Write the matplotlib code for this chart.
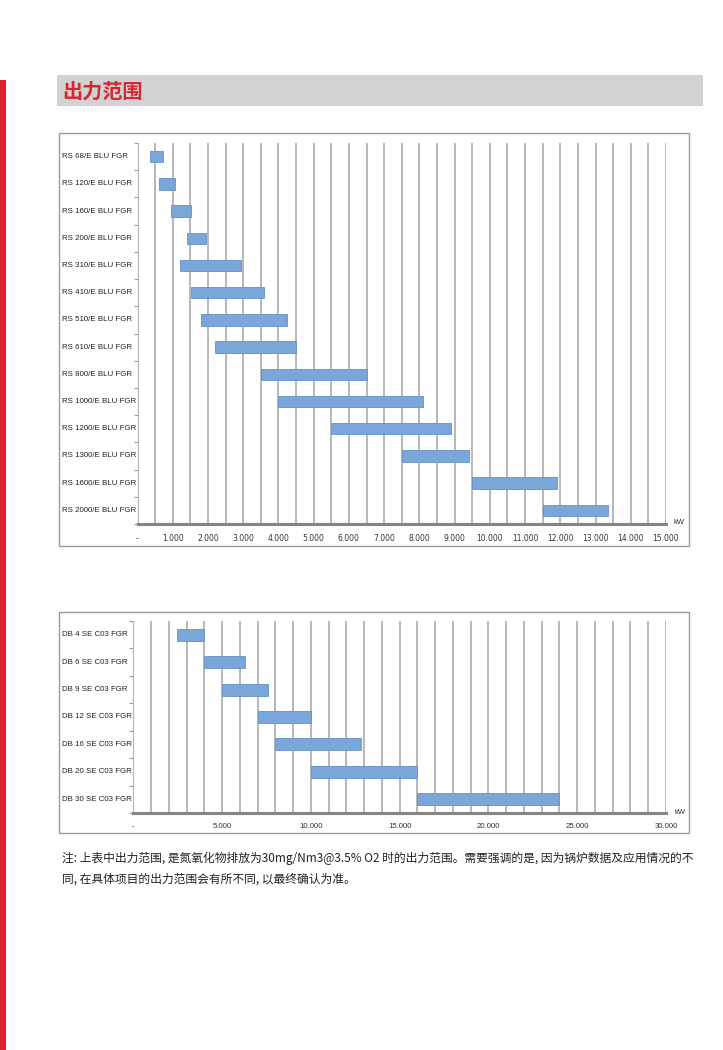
import matplotlib
matplotlib.use("Agg")
import matplotlib.pyplot as plt
import matplotlib.patches as patches
import matplotlib.transforms as mtransforms
from matplotlib.ticker import FuncFormatter, MultipleLocator

# RS burners, output range in kW
rs_models = ['RS 68/E BLU FGR', 'RS 120/E BLU FGR', 'RS 160/E BLU FGR',
             'RS 200/E BLU FGR', 'RS 310/E BLU FGR', 'RS 410/E BLU FGR',
             'RS 510/E BLU FGR', 'RS 610/E BLU FGR', 'RS 800/E BLU FGR',
             'RS 1000/E BLU FGR', 'RS 1200/E BLU FGR', 'RS 1300/E BLU FGR',
             'RS 1600/E BLU FGR', 'RS 2000/E BLU FGR']
rs_min = [350, 620, 950, 1400, 1200, 1520, 1800, 2200, 3500, 4000, 5500, 7500, 9500, 11500]
rs_max = [710, 1060, 1520, 1950, 2930, 3580, 4240, 4500, 6500, 8100, 8900, 9400, 11900, 13350]

# DB burners, output range in kW
db_models = ['DB 4 SE C03 FGR', 'DB 6 SE C03 FGR', 'DB 9 SE C03 FGR',
             'DB 12 SE C03 FGR', 'DB 16 SE C03 FGR', 'DB 20 SE C03 FGR',
             'DB 30 SE C03 FGR']
db_min = [2450, 4000, 5000, 7000, 8000, 10000, 16000]
db_max = [4000, 6300, 7600, 10000, 12800, 16000, 24000]

title = '出力范围'
note_lines = ['注: 上表中出力范围, 是氮氧化物排放为30mg/Nm3@3.5% O2 时的出力范围。需要强调的是, 因为锅炉数据及应用情况的不',
              '同, 在具体项目的出力范围会有所不同, 以最终确认为准。']

W, H = 723, 1050
fig = plt.figure(figsize=(W / 100, H / 100), dpi=100)
fig.patch.set_facecolor('white')

RED = '#e1232b'
BAR = '#7ba6da'
BAR_EDGE = '#6590c8'
GRID = '#b2b2b2'


def box(l, t, r, b):
    return [l / W, 1 - b / H, (r - l) / W, (b - t) / H]


def fig_rect(l, t, r, b, **kw):
    fig.patches.append(patches.Rectangle((l / W, 1 - b / H), (r - l) / W, (b - t) / H,
                                         transform=fig.transFigure, figure=fig, **kw))


# left red strip, title band
fig_rect(0, 80, 6, 1050, facecolor=RED, edgecolor='none')
fig_rect(57, 75, 703, 106, facecolor='#d1d2d4', edgecolor='none')
fig.text(62 / W, 1 - 91 / H, title, color='#d9262e', fontsize=14.5, fontweight='bold',
         family=['Noto Sans CJK SC', 'DejaVu Sans'], ha='left', va='center')

# chart frames
fig_rect(59, 133, 689, 546, facecolor='none', edgecolor='#9c9c9c', lw=1)
fig_rect(59, 612, 689, 833, facecolor='none', edgecolor='#9c9c9c', lw=1)


def range_chart(rect, models, lo, hi, xmax, major, minor, label_font, tick_font,
                tick_size, tick_pad, bar_h, kw_pos):
    ax = fig.add_axes(rect)
    n = len(models)
    ypos = [i + 0.5 for i in range(n)]
    widths = [b - a for a, b in zip(lo, hi)]
    ax.barh(ypos, widths, left=lo, height=bar_h, color=BAR, edgecolor=BAR_EDGE,
            lw=0.6, zorder=3)
    ax.set_xlim(0, xmax)
    ax.set_ylim(n, 0)
    ax.xaxis.set_major_locator(MultipleLocator(major))
    ax.xaxis.set_minor_locator(MultipleLocator(minor))
    ax.grid(which='both', axis='x', color=GRID, lw=1.3, zorder=1)
    ax.xaxis.set_major_formatter(FuncFormatter(
        lambda v, p: '-' if v == 0 else f'{int(v):,}'.replace(',', '.')))
    ax.tick_params(axis='x', which='both', length=0, labelsize=tick_size,
                   pad=tick_pad, labelcolor='#333333')
    for lab in ax.get_xticklabels():
        lab.set_family(tick_font)
    ax.set_yticks(range(n + 1))
    ax.set_yticklabels([])
    ax.tick_params(axis='y', length=3, width=0.8, color='#9a9a9a')
    for s in ('top', 'right'):
        ax.spines[s].set_visible(False)
    ax.spines['left'].set_color('#b4b4b4')
    ax.spines['left'].set_linewidth(0.8)
    ax.spines['bottom'].set_color('#858585')
    ax.spines['bottom'].set_linewidth(2.2)
    trans = mtransforms.blended_transform_factory(fig.transFigure, ax.transData)
    for y, name in zip(ypos, models):
        ax.text(62 / W, y, name, transform=trans, ha='left', va='center',
                fontsize=5.7, family=label_font, color='#222222')
    fig.text(kw_pos[0] / W, 1 - kw_pos[1] / H, 'kW', fontsize=5.5,
             family=label_font, ha='center', va='center', color='#333333')
    return ax


range_chart(box(137.5, 143, 666, 524), rs_models, rs_min, rs_max, 15000, 1000, 500,
            'Liberation Sans', 'DejaVu Sans', 5.5, 7, 0.42, (679, 522))
range_chart(box(133.3, 621, 666, 813), db_models, db_min, db_max, 30000, 5000, 1000,
            'Liberation Sans', 'Liberation Sans', 5.6, 7, 0.44, (680, 812))

# note below the charts
for i, line in enumerate(note_lines):
    fig.text(62 / W, 1 - (858 + 21 * i) / H, line, fontsize=8.5, color='#222222',
             family=['Noto Sans CJK SC', 'DejaVu Sans'], ha='left', va='center')

fig.savefig('out.png', dpi=100)
